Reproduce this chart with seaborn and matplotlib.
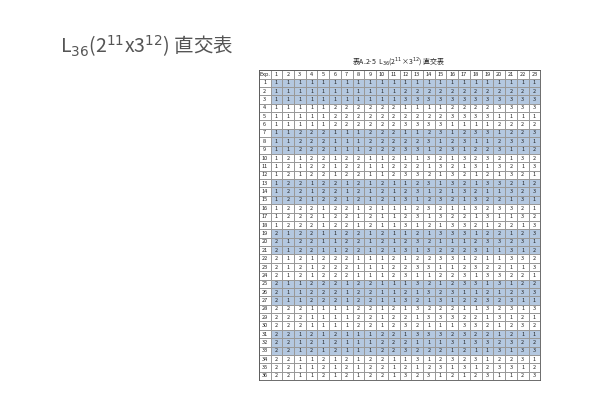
import numpy as np
import matplotlib
matplotlib.use("Agg")
import matplotlib.pyplot as plt
import seaborn as sns
from matplotlib.colors import ListedColormap

sns.set_theme(style="white")
plt.rcParams['font.family'] = ['Noto Sans CJK JP', 'DejaVu Sans']

column_labels = [str(i) for i in range(1, 24)]
rows = [
"1 1 1 1 1 1 1 1 1 1 1 1 1 1 1 1 1 1 1 1 1 1 1",
"1 1 1 1 1 1 1 1 1 1 1 2 2 2 2 2 2 2 2 2 2 2 2",
"1 1 1 1 1 1 1 1 1 1 1 3 3 3 3 3 3 3 3 3 3 3 3",
"1 1 1 1 1 2 2 2 2 2 2 1 1 1 1 2 2 2 2 3 3 3 3",
"1 1 1 1 1 2 2 2 2 2 2 2 2 2 2 3 3 3 3 1 1 1 1",
"1 1 1 1 1 2 2 2 2 2 2 3 3 3 3 1 1 1 1 2 2 2 2",
"1 1 2 2 2 1 1 1 2 2 2 1 1 2 3 1 2 3 3 1 2 2 3",
"1 1 2 2 2 1 1 1 2 2 2 2 2 3 1 2 3 1 1 2 3 3 1",
"1 1 2 2 2 1 1 1 2 2 2 3 3 1 2 3 1 2 2 3 1 1 2",
"1 2 1 2 2 1 2 2 1 1 2 1 1 3 2 1 3 2 3 2 1 3 2",
"1 2 1 2 2 1 2 2 1 1 2 2 2 1 3 2 1 3 1 3 2 1 3",
"1 2 1 2 2 1 2 2 1 1 2 3 3 2 1 3 2 1 2 1 3 2 1",
"1 2 2 1 2 2 1 2 1 2 1 1 2 3 1 3 2 1 3 3 2 1 2",
"1 2 2 1 2 2 1 2 1 2 1 2 3 1 2 1 3 2 1 1 3 2 3",
"1 2 2 1 2 2 1 2 1 2 1 3 1 2 3 2 1 3 2 2 1 3 1",
"1 2 2 2 1 2 2 1 2 1 1 1 2 3 2 1 1 3 2 3 3 2 1",
"1 2 2 2 1 2 2 1 2 1 1 2 3 1 3 2 2 1 3 1 1 3 2",
"1 2 2 2 1 2 2 1 2 1 1 3 1 2 1 3 3 2 1 2 2 1 3",
"2 1 2 2 1 1 2 2 1 2 1 1 2 1 3 3 3 1 2 2 1 2 3",
"2 1 2 2 1 1 2 2 1 2 1 2 3 2 1 1 1 2 3 3 2 3 1",
"2 1 2 2 1 1 2 2 1 2 1 3 1 3 2 2 2 3 1 1 3 1 2",
"2 1 2 1 2 2 2 1 1 1 2 1 2 2 3 3 1 2 1 1 3 3 2",
"2 1 2 1 2 2 2 1 1 1 2 2 3 3 1 1 2 3 2 2 1 1 3",
"2 1 2 1 2 2 2 1 1 1 2 3 1 1 2 2 3 1 3 3 2 2 1",
"2 1 1 2 2 2 1 2 2 1 1 1 3 2 1 2 3 3 1 3 1 2 2",
"2 1 1 2 2 2 1 2 2 1 1 2 1 3 2 3 1 1 2 1 2 3 3",
"2 1 1 2 2 2 1 2 2 1 1 3 2 1 3 1 2 2 3 2 3 1 1",
"2 2 2 1 1 1 1 2 2 1 2 1 3 2 2 2 1 1 3 2 3 1 3",
"2 2 2 1 1 1 1 2 2 1 2 2 1 3 3 3 2 2 1 3 1 2 1",
"2 2 2 1 1 1 1 2 2 1 2 3 2 1 1 1 3 3 2 1 2 3 2",
"2 2 1 2 1 2 1 1 1 2 2 1 3 3 3 2 3 2 2 1 2 1 1",
"2 2 1 2 1 2 1 1 1 2 2 2 1 1 1 3 1 3 3 2 3 2 2",
"2 2 1 2 1 2 1 1 1 2 2 3 2 2 2 1 2 1 1 3 1 3 3",
"2 2 1 1 2 1 2 1 2 2 1 1 3 1 2 3 2 3 1 2 2 3 1",
"2 2 1 1 2 1 2 1 2 2 1 2 1 2 3 1 3 1 2 3 3 1 2",
"2 2 1 1 2 1 2 1 2 2 1 3 2 3 1 2 1 2 3 1 1 2 3",
]
shaded_groups = [0, 2, 4, 6, 8, 10]

values = [r.split() for r in rows]
annot = [["Exp."] + column_labels]
shade = [[0] * 24]
for i, r in enumerate(values):
    annot.append([str(i + 1)] + r)
    s = 1 if (i // 3) in shaded_groups else 0
    shade.append([0] + [s] * 23)
annot = np.array(annot, dtype=object)
shade = np.array(shade)

fig = plt.figure(figsize=(5.95, 4.2), dpi=100)
fig.text(0.10, 0.875, r"L$_{36}$(2$^{11}$x3$^{12}$) 直交表", fontsize=14, color="#555555")
fig.text(0.67, 0.848, r"表A.2-5  L$_{36}$(2$^{11}$×3$^{12}$) 直交表", fontsize=5, ha="center", color="#222222")

ax = fig.add_axes([0.435, 0.095, 0.473, 0.738])
sns.heatmap(shade, cmap=ListedColormap(["white", "#b4c8e0"]), annot=annot, fmt="",
            annot_kws={"fontsize": 4, "color": "#222222"}, cbar=False,
            linewidths=0.4, linecolor="#999999", ax=ax, xticklabels=False, yticklabels=False)
for sp in ax.spines.values():
    sp.set_visible(True); sp.set_color("#555555"); sp.set_linewidth(0.6)
fig.savefig("out.png", dpi=100)
